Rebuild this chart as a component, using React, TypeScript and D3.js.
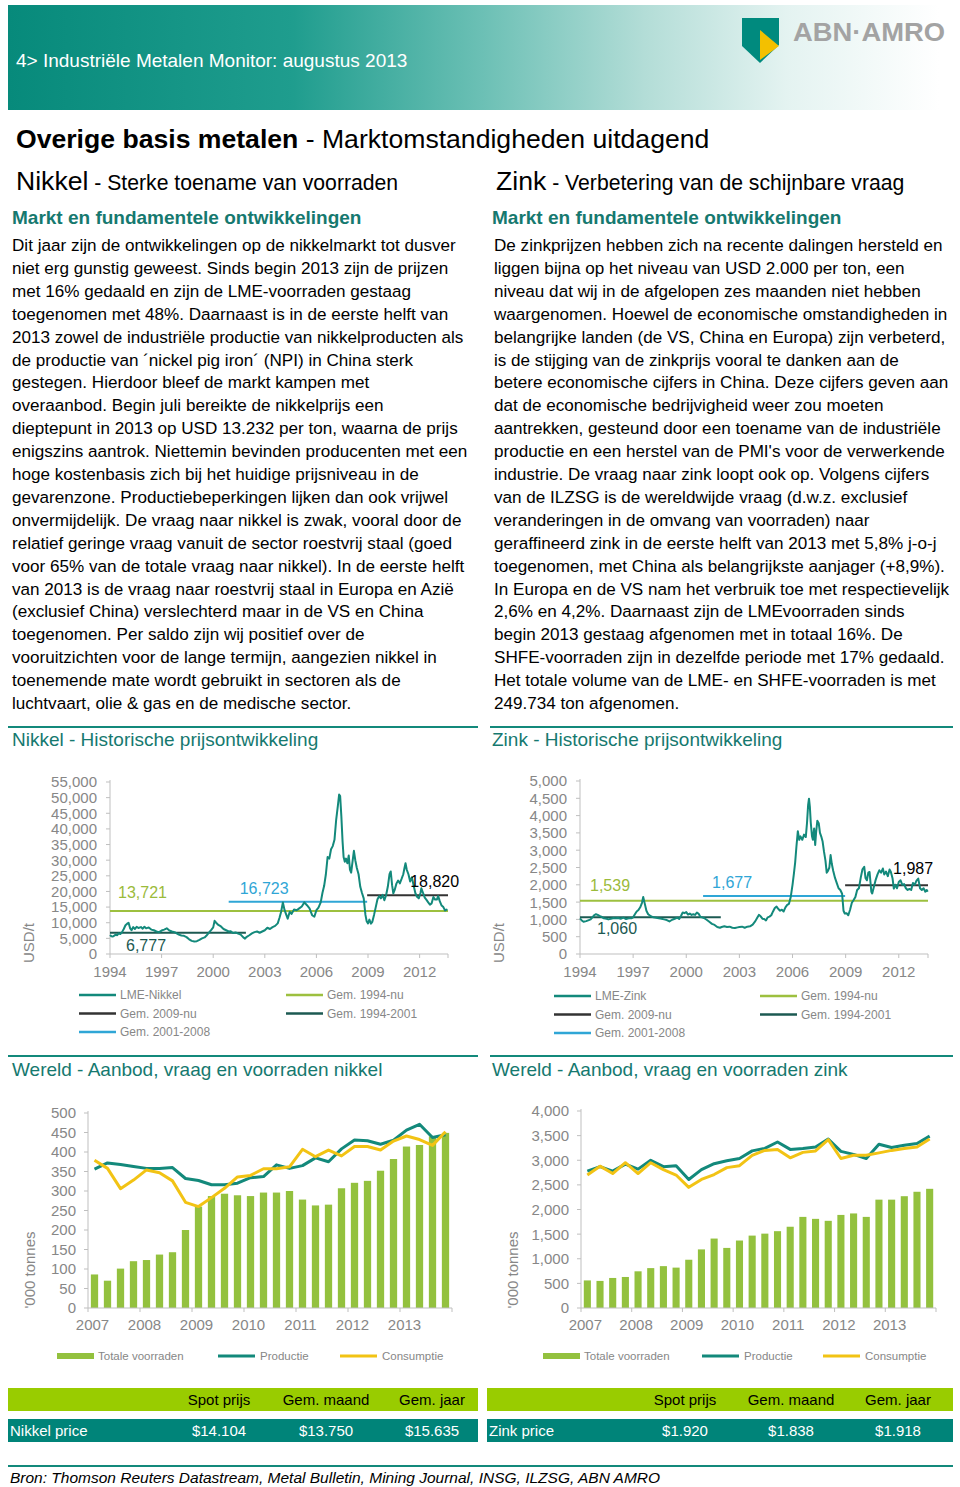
import React from 'react';
import * as d3 from 'd3';

const FONT = "'Liberation Sans', Arial, Helvetica, sans-serif";
const TEAL = '#13897b';
const TEAL_TEXT = '#16796f';
const GRAY = '#878787';
const GREEN_AVG = '#9dc03f';
const DARK_AVG = '#1c5a52';
const BLUE_AVG = '#2fa6d6';
const BLACK_AVG = '#333333';
const BAR_GREEN = '#93c13e';
const YELLOW = '#f2c314';

// ---------------- Text content ----------------
const nickelText = [
  'Dit jaar zijn de ontwikkelingen op de nikkelmarkt tot dusver',
  'niet erg gunstig geweest. Sinds begin 2013 zijn de prijzen',
  'met 16% gedaald en zijn de LME-voorraden gestaag',
  'toegenomen met 48%. Daarnaast is in de eerste helft van',
  '2013 zowel de industriële productie van nikkelproducten als',
  'de productie van ´nickel pig iron´ (NPI) in China sterk',
  'gestegen. Hierdoor bleef de markt kampen met',
  'overaanbod. Begin juli bereikte de nikkelprijs een',
  'dieptepunt in 2013 op USD 13.232 per ton, waarna de prijs',
  'enigszins aantrok. Niettemin bevinden producenten met een',
  'hoge kostenbasis zich bij het huidige prijsniveau in de',
  'gevarenzone. Productiebeperkingen lijken dan ook vrijwel',
  'onvermijdelijk. De vraag naar nikkel is zwak, vooral door de',
  'relatief geringe vraag vanuit de sector roestvrij staal (goed',
  'voor 65% van de totale vraag naar nikkel). In de eerste helft',
  'van 2013 is de vraag naar roestvrij staal in Europa en Azië',
  '(exclusief China) verslechterd maar in de VS en China',
  'toegenomen. Per saldo zijn wij positief over de',
  'vooruitzichten voor de lange termijn, aangezien nikkel in',
  'toenemende mate wordt gebruikt in sectoren als de',
  'luchtvaart, olie & gas en de medische sector.',
];

const zincText = [
  'De zinkprijzen hebben zich na recente dalingen hersteld en',
  'liggen bijna op het niveau van USD 2.000 per ton, een',
  'niveau dat wij in de afgelopen zes maanden niet hebben',
  'waargenomen. Hoewel de economische omstandigheden in',
  'belangrijke landen (de VS, China en Europa) zijn verbeterd,',
  'is de stijging van de zinkprijs vooral te danken aan de',
  'betere economische cijfers in China. Deze cijfers geven aan',
  'dat de economische bedrijvigheid weer zou moeten',
  'aantrekken, gesteund door een toename van de industriële',
  "productie en een herstel van de PMI's voor de verwerkende",
  'industrie. De vraag naar zink loopt ook op. Volgens cijfers',
  'van de ILZSG is de wereldwijde vraag (d.w.z. exclusief',
  'veranderingen in de omvang van voorraden) naar',
  'geraffineerd zink in de eerste helft van 2013 met 5,8% j-o-j',
  'toegenomen, met China als belangrijkste aanjager (+8,9%).',
  'In Europa en de VS nam het verbruik toe met respectievelijk',
  '2,6% en 4,2%. Daarnaast zijn de LMEvoorraden sinds',
  'begin 2013 gestaag afgenomen met in totaal 16%. De',
  'SHFE-voorraden zijn in dezelfde periode met 17% gedaald.',
  'Het totale volume van de LME- en SHFE-voorraden is met',
  '249.734 ton afgenomen.',
];

// ---------------- Price data (year, USD/t) ----------------
const nickelPrice: [number, number][] = [
  [1994.0, 6100], [1994.08, 5700], [1994.17, 5600], [1994.25, 5900], [1994.33, 6200], [1994.42, 6000],
  [1994.5, 6600], [1994.6, 6400], [1994.7, 7000], [1994.8, 8000], [1994.9, 9200], [1995.0, 9700],
  [1995.08, 10000], [1995.17, 8200], [1995.25, 7600], [1995.35, 8600], [1995.45, 8000], [1995.55, 8700],
  [1995.65, 8300], [1995.8, 8600], [1995.9, 8100], [1996.0, 8700], [1996.1, 8200], [1996.25, 8500],
  [1996.4, 7800], [1996.55, 7600], [1996.7, 7200], [1996.85, 7000], [1997.0, 7500], [1997.15, 7800],
  [1997.3, 8200], [1997.45, 7500], [1997.6, 7200], [1997.75, 7000], [1997.9, 6500], [1998.0, 6200],
  [1998.15, 5900], [1998.3, 5800], [1998.45, 5400], [1998.6, 4700], [1998.75, 4200], [1998.9, 4000],
  [1999.05, 4100], [1999.2, 4500], [1999.35, 5000], [1999.5, 5300], [1999.6, 5800], [1999.75, 6800],
  [1999.9, 7800], [2000.0, 8500], [2000.08, 10600], [2000.17, 10000], [2000.3, 9300], [2000.45, 8800],
  [2000.6, 8000], [2000.75, 7600], [2000.9, 7200], [2001.0, 7300], [2001.15, 6700], [2001.3, 6900],
  [2001.45, 6500], [2001.6, 6200], [2001.75, 5300], [2001.85, 4900], [2001.95, 5500], [2002.1, 6000],
  [2002.25, 6600], [2002.4, 7000], [2002.55, 7200], [2002.7, 6800], [2002.85, 7200], [2003.0, 7600],
  [2003.15, 8400], [2003.3, 8000], [2003.45, 8600], [2003.6, 9000], [2003.75, 9800], [2003.85, 11500],
  [2003.95, 13500], [2004.05, 16500], [2004.15, 14000], [2004.25, 12500], [2004.33, 11300], [2004.45, 13500],
  [2004.55, 12800], [2004.7, 14200], [2004.85, 14000], [2005.0, 14600], [2005.15, 15200], [2005.3, 16500],
  [2005.45, 15600], [2005.6, 14600], [2005.75, 12400], [2005.88, 11900], [2006.0, 14000], [2006.12, 14800],
  [2006.25, 16500], [2006.35, 19500], [2006.45, 21800], [2006.55, 25500], [2006.65, 31000], [2006.75, 30500],
  [2006.85, 33500], [2006.95, 34500], [2007.05, 36500], [2007.15, 43000], [2007.25, 47500], [2007.32, 51000],
  [2007.38, 50500], [2007.45, 44000], [2007.52, 36000], [2007.58, 31000], [2007.65, 29500], [2007.72, 30500],
  [2007.8, 29000], [2007.88, 31500], [2007.95, 27000], [2008.02, 26000], [2008.1, 29500], [2008.18, 33000],
  [2008.26, 30000], [2008.35, 27500], [2008.45, 25500], [2008.55, 21500], [2008.65, 19500], [2008.75, 17800],
  [2008.85, 12500], [2008.92, 10500], [2009.0, 9800], [2009.08, 11000], [2009.17, 9700], [2009.25, 10300],
  [2009.35, 12500], [2009.45, 15000], [2009.55, 17500], [2009.65, 18500], [2009.75, 17800], [2009.85, 18900],
  [2009.95, 17200], [2010.05, 18800], [2010.15, 21500], [2010.25, 25500], [2010.32, 26400], [2010.4, 22000],
  [2010.47, 19400], [2010.55, 20500], [2010.65, 22500], [2010.75, 23500], [2010.85, 22600], [2010.95, 24000],
  [2011.05, 25500], [2011.12, 27500], [2011.18, 29000], [2011.25, 27000], [2011.35, 25500], [2011.45, 23200],
  [2011.55, 24500], [2011.65, 22000], [2011.75, 19500], [2011.85, 18300], [2011.95, 17800], [2012.05, 19500],
  [2012.1, 21000], [2012.2, 19500], [2012.3, 18000], [2012.4, 17300], [2012.5, 16500], [2012.6, 15800],
  [2012.7, 16200], [2012.8, 18200], [2012.9, 17400], [2013.0, 17400], [2013.08, 18500], [2013.17, 16900],
  [2013.28, 15500], [2013.38, 15000], [2013.48, 13900], [2013.56, 14200], [2013.62, 14100],
];

const zincPrice: [number, number][] = [
  [1994.0, 1030], [1994.1, 970], [1994.2, 930], [1994.35, 950], [1994.5, 980], [1994.6, 1000],
  [1994.7, 1060], [1994.8, 1120], [1994.9, 1150], [1995.0, 1130], [1995.1, 1100], [1995.2, 1080],
  [1995.35, 1030], [1995.5, 1020], [1995.6, 1000], [1995.75, 1020], [1995.9, 1040], [1996.0, 1030],
  [1996.15, 1040], [1996.3, 1020], [1996.45, 1050], [1996.6, 1010], [1996.75, 1030], [1996.9, 1030],
  [1997.0, 1060], [1997.1, 1150], [1997.2, 1230], [1997.3, 1270], [1997.4, 1350], [1997.5, 1480],
  [1997.57, 1650], [1997.65, 1470], [1997.75, 1250], [1997.85, 1150], [1998.0, 1090], [1998.15, 1060],
  [1998.3, 1050], [1998.45, 1030], [1998.6, 1020], [1998.75, 1000], [1998.9, 980], [1999.05, 940],
  [1999.2, 990], [1999.35, 1020], [1999.5, 1050], [1999.6, 1010], [1999.7, 1100], [1999.8, 1200],
  [1999.9, 1180], [2000.0, 1210], [2000.1, 1140], [2000.2, 1170], [2000.3, 1130], [2000.4, 1150],
  [2000.5, 1130], [2000.6, 1200], [2000.7, 1160], [2000.8, 1070], [2000.9, 1060], [2001.0, 1040],
  [2001.15, 990], [2001.3, 930], [2001.45, 870], [2001.6, 840], [2001.75, 780], [2001.9, 760],
  [2002.0, 780], [2002.15, 800], [2002.3, 780], [2002.45, 790], [2002.6, 760], [2002.75, 750],
  [2002.9, 770], [2003.0, 780], [2003.15, 790], [2003.3, 760], [2003.45, 790], [2003.6, 800],
  [2003.75, 850], [2003.9, 950], [2004.0, 1040], [2004.1, 1130], [2004.2, 1090], [2004.3, 1020],
  [2004.4, 1010], [2004.5, 970], [2004.6, 1060], [2004.7, 1080], [2004.8, 1120], [2004.9, 1230],
  [2005.0, 1330], [2005.1, 1370], [2005.2, 1300], [2005.3, 1250], [2005.4, 1280], [2005.5, 1230],
  [2005.6, 1350], [2005.7, 1420], [2005.8, 1450], [2005.9, 1650], [2006.0, 2000], [2006.08, 2330],
  [2006.15, 2650], [2006.22, 3100], [2006.3, 3550], [2006.38, 3300], [2006.45, 3400], [2006.55, 3300],
  [2006.65, 3450], [2006.75, 3380], [2006.82, 3800], [2006.88, 4300], [2006.93, 4490], [2006.98, 4250],
  [2007.03, 3800], [2007.1, 3400], [2007.15, 3300], [2007.22, 3630], [2007.28, 3150], [2007.33, 3500],
  [2007.4, 3850], [2007.48, 3780], [2007.55, 3500], [2007.62, 3400], [2007.7, 3250], [2007.78, 2950],
  [2007.86, 2700], [2007.93, 2350], [2008.0, 2400], [2008.08, 2500], [2008.15, 2860], [2008.22, 2600],
  [2008.3, 2400], [2008.4, 2200], [2008.5, 2050], [2008.6, 1900], [2008.7, 1850], [2008.8, 1740],
  [2008.88, 1250], [2008.95, 1170], [2009.05, 1180], [2009.15, 1120], [2009.25, 1280], [2009.35, 1480],
  [2009.45, 1560], [2009.55, 1650], [2009.65, 1850], [2009.75, 1900], [2009.85, 2200], [2009.95, 2450],
  [2010.05, 2520], [2010.12, 2200], [2010.2, 2130], [2010.28, 2350], [2010.35, 2370], [2010.45, 1800],
  [2010.5, 1750], [2010.6, 1950], [2010.7, 2150], [2010.8, 2300], [2010.9, 2420], [2011.0, 2350],
  [2011.1, 2470], [2011.18, 2300], [2011.28, 2380], [2011.38, 2250], [2011.48, 2440], [2011.55, 2380],
  [2011.65, 2180], [2011.72, 1890], [2011.8, 2000], [2011.9, 1900], [2012.0, 2080], [2012.1, 2130],
  [2012.2, 2000], [2012.3, 2020], [2012.4, 1900], [2012.5, 1850], [2012.6, 1880], [2012.7, 1850],
  [2012.8, 2050], [2012.9, 2000], [2013.0, 2120], [2013.1, 2180], [2013.2, 1900], [2013.3, 1850],
  [2013.4, 1900], [2013.5, 1800], [2013.58, 1850], [2013.63, 1800],
];

// averages: value, from year, to year
const nickelAverages = [
  { key: 'Gem. 1994-nu', value: 13721, from: 1994, to: 2013.65 },
  { key: 'Gem. 1994-2001', value: 6777, from: 1994, to: 2001.9 },
  { key: 'Gem. 2001-2008', value: 16723, from: 2000.9, to: 2008.95 },
  { key: 'Gem. 2009-nu', value: 18820, from: 2008.95, to: 2013.65 },
];
const zincAverages = [
  { key: 'Gem. 1994-nu', value: 1539, from: 1994, to: 2013.65 },
  { key: 'Gem. 1994-2001', value: 1060, from: 1994, to: 2001.95 },
  { key: 'Gem. 2001-2008', value: 1677, from: 2000.95, to: 2008.97 },
  { key: 'Gem. 2009-nu', value: 1987, from: 2008.97, to: 2013.65 },
];

const priceYearTicks = [1994, 1997, 2000, 2003, 2006, 2009, 2012];
const nickelPriceTicks = [0, 5000, 10000, 15000, 20000, 25000, 30000, 35000, 40000, 45000, 50000, 55000];
const zincPriceTicks = [0, 500, 1000, 1500, 2000, 2500, 3000, 3500, 4000, 4500, 5000];

// ---------------- Quarterly supply/demand data ('000 t) ----------------
const quarterYears = [2007, 2008, 2009, 2010, 2011, 2012, 2013];
const nickelStocks = [86, 70, 101, 120, 123, 137, 143, 200, 260, 287, 293, 289, 287, 296, 296, 300,
  278, 263, 265, 307, 321, 326, 352, 382, 414, 418, 440, 449];
const nickelProduction = [356, 372, 368, 363, 358, 358, 360, 332, 327, 316, 316, 320, 334, 337, 367, 358,
  365, 385, 375, 408, 431, 429, 420, 430, 456, 471, 437, 444];
const nickelProductionLast = 456;
const nickelConsumption = [379, 358, 306, 328, 354, 347, 326, 271, 260, 283, 307, 336, 340, 357, 357, 362,
  407, 388, 405, 390, 414, 414, 405, 428, 441, 432, 417, 452];
const nickelTicks = [0, 50, 100, 150, 200, 250, 300, 350, 400, 450, 500];

const zincStocks = [560, 550, 610, 630, 745, 810, 850, 820, 980, 1190, 1410, 1220, 1370, 1470, 1510, 1560,
  1650, 1850, 1810, 1770, 1890, 1920, 1850, 2200, 2200, 2270, 2360, 2420];
const zincProduction = [2780, 2870, 2780, 2920, 2820, 3000, 2870, 2890, 2610, 2810, 2930, 2990, 3035, 3190,
  3240, 3370, 3220, 3240, 3270, 3430, 3180, 3120, 3035, 3325, 3260, 3305, 3340, 3490];
const zincConsumption = [2700, 2880, 2730, 2950, 2730, 2950, 2810, 2700, 2450, 2610, 2710, 2850, 2890, 3100,
  3200, 3220, 3050, 3160, 3190, 3420, 3035, 3100, 3100, 3150, 3200, 3240, 3270, 3430];
const zincTicks = [0, 500, 1000, 1500, 2000, 2500, 3000, 3500, 4000];

// ---------------- Table ----------------
const tableHeaders = ['Spot prijs', 'Gem. maand', 'Gem. jaar'];
const nickelTable = ['$14.104', '$13.750', '$15.635'];
const zincTable = ['$1.920', '$1.838', '$1.918'];

const fmt = d3.format(',');

type Avg = { key: string; value: number; from: number; to: number };

function PriceChart(props: {
  data: [number, number][];
  avgs: Avg[];
  ticks: number[];
  yMax: number;
  left: number;
  right: number;
  top: number;
  bottom: number;
  metal: string;
  labelOffsets: { dx: number; dy: number }[];
  legendX: [number, number];
  legendY: number;
}) {
  const { data, avgs, ticks, yMax, left, right, top, bottom, metal, labelOffsets, legendX, legendY } = props;
  const x = d3.scaleLinear().domain([1994, 2013.65]).range([left, right]);
  const y = d3.scaleLinear().domain([0, yMax]).range([bottom, top]);
  const line = d3.line<[number, number]>().x((d) => x(d[0])).y((d) => y(d[1]));
  const avgColors = [GREEN_AVG, DARK_AVG, BLUE_AVG, BLACK_AVG];
  const labelColors = ['#9bbb3b', '#1c5a52', '#2fa6d6', '#000000'];
  const legendItems = [
    { label: metal, color: TEAL, col: 0, row: 0 },
    { label: avgs[0].key, color: avgColors[0], col: 1, row: 0 },
    { label: avgs[3].key, color: avgColors[3], col: 0, row: 1 },
    { label: avgs[1].key, color: avgColors[1], col: 1, row: 1 },
    { label: avgs[2].key, color: avgColors[2], col: 0, row: 2 },
  ];
  return (
    <g>
      <line x1={left} x2={left} y1={top - 2} y2={bottom} stroke="#bfbfbf" strokeWidth={1} />
      <line x1={left} x2={right} y1={bottom} y2={bottom} stroke="#bfbfbf" strokeWidth={1} />
      {ticks.map((t) => (
        <g key={t}>
          <line x1={left - 4} x2={left} y1={y(t)} y2={y(t)} stroke="#bfbfbf" />
          <text x={left - 13} y={y(t)} dy="0.36em" textAnchor="end" fontSize={15} fill={GRAY}>
            {fmt(t)}
          </text>
        </g>
      ))}
      {priceYearTicks.map((t) => (
        <g key={t}>
          <line x1={x(t)} x2={x(t)} y1={bottom} y2={bottom + 4} stroke="#bfbfbf" />
          <text x={x(t)} y={bottom + 23} textAnchor="middle" fontSize={15} fill={GRAY}>
            {t}
          </text>
        </g>
      ))}
      <line x1={right} x2={right} y1={bottom} y2={bottom + 4} stroke="#bfbfbf" />
      {avgs.map((a, i) => (
        <line key={a.key} x1={x(a.from)} x2={x(a.to)} y1={y(a.value)} y2={y(a.value)} stroke={avgColors[i]} strokeWidth={2} />
      ))}
      <path d={line(data) || ''} fill="none" stroke={TEAL} strokeWidth={2} strokeLinejoin="round" />
      {avgs.map((a, i) => (
        <text
          key={a.key + 'l'}
          x={x(a.from) + labelOffsets[i].dx}
          y={y(a.value) + labelOffsets[i].dy}
          fontSize={16}
          fill={labelColors[i]}
        >
          {fmt(a.value)}
        </text>
      ))}
      <text
        transform={`translate(${left - 81},${bottom - 11}) rotate(-90)`}
        textAnchor="middle"
        dy="0.35em"
        fontSize={15}
        fill={GRAY}
      >
        USD/t
      </text>
      {legendItems.map((it) => {
        const lx = legendX[it.col];
        const ly = legendY + it.row * 18.5;
        return (
          <g key={it.label}>
            <line x1={lx} x2={lx + 37} y1={ly} y2={ly} stroke={it.color} strokeWidth={2.5} />
            <text x={lx + 41} y={ly} dy="0.35em" fontSize={12} fill={GRAY}>
              {it.label}
            </text>
          </g>
        );
      })}
    </g>
  );
}

function SupplyChart(props: {
  stocks: number[];
  production: number[];
  consumption: number[];
  ticks: number[];
  yMax: number;
  left: number;
  right: number;
  top: number;
  bottom: number;
  legendXs: number[];
  legendY: number;
  yTitleX: number;
}) {
  const { stocks, production, consumption, ticks, yMax, left, right, top, bottom, legendXs, legendY, yTitleX } = props;
  const idx = stocks.map((_, i) => i);
  const x = d3.scaleBand<number>().domain(idx).range([left, right]).paddingInner(0.44).paddingOuter(0.22);
  const step = x.step();
  const y = d3.scaleLinear().domain([0, yMax]).range([bottom, top]);
  const cx = (i: number) => (x(i) as number) + x.bandwidth() / 2;
  const line = d3.line<number>().x((_, i) => cx(i)).y((d) => y(d));
  const yearStart = (k: number) => left + k * 4 * step;
  return (
    <g>
      {stocks.map((v, i) => (
        <rect key={i} x={x(i)} y={y(v)} width={x.bandwidth()} height={bottom - y(v)} fill={BAR_GREEN} />
      ))}
      <line x1={left} x2={left} y1={top - 2} y2={bottom} stroke="#bfbfbf" />
      <line x1={left} x2={right} y1={bottom} y2={bottom} stroke="#bfbfbf" />
      {ticks.map((t) => (
        <g key={t}>
          <line x1={left - 4} x2={left} y1={y(t)} y2={y(t)} stroke="#bfbfbf" />
          <text x={left - 12} y={y(t)} dy="0.36em" textAnchor="end" fontSize={15} fill={GRAY}>
            {fmt(t)}
          </text>
        </g>
      ))}
      {quarterYears.map((yr, k) => (
        <g key={yr}>
          <line x1={yearStart(k)} x2={yearStart(k)} y1={bottom} y2={bottom + 4} stroke="#bfbfbf" />
          <text x={cx(k * 4) - 2} y={bottom + 22} textAnchor="middle" fontSize={15} fill={GRAY}>
            {yr}
          </text>
        </g>
      ))}
      <line x1={right} x2={right} y1={bottom} y2={bottom + 4} stroke="#bfbfbf" />
      <path d={line(production) || ''} fill="none" stroke={TEAL} strokeWidth={3} strokeLinejoin="round" />
      <path d={line(consumption) || ''} fill="none" stroke={YELLOW} strokeWidth={3} strokeLinejoin="round" />
      <text
        transform={`translate(${yTitleX},${bottom - 38}) rotate(-90)`}
        textAnchor="middle"
        dy="0.35em"
        fontSize={15}
        fill={GRAY}
      >
        '000 tonnes
      </text>
      <rect x={legendXs[0]} y={legendY - 3} width={37} height={6} fill={BAR_GREEN} />
      <text x={legendXs[0] + 41} y={legendY} dy="0.35em" fontSize={11.5} fill={GRAY}>
        Totale voorraden
      </text>
      <line x1={legendXs[1]} x2={legendXs[1] + 37} y1={legendY} y2={legendY} stroke={TEAL} strokeWidth={3} />
      <text x={legendXs[1] + 42} y={legendY} dy="0.35em" fontSize={11.5} fill={GRAY}>
        Productie
      </text>
      <line x1={legendXs[2]} x2={legendXs[2] + 37} y1={legendY} y2={legendY} stroke={YELLOW} strokeWidth={3} />
      <text x={legendXs[2] + 42} y={legendY} dy="0.35em" fontSize={11.5} fill={GRAY}>
        Consumptie
      </text>
    </g>
  );
}

function PriceTable(props: { x: number; width: number; name: string; values: string[]; cols: number[] }) {
  const { x, width, name, values, cols } = props;
  return (
    <g>
      <rect x={x} y={1388} width={width} height={23} fill="#99cc00" />
      <rect x={x} y={1419} width={width} height={23} fill="#008479" />
      {tableHeaders.map((h, i) => (
        <text key={h} x={cols[i]} y={1405} textAnchor="middle" fontSize={15} fill="#000">
          {h}
        </text>
      ))}
      <text x={x + 2} y={1436} fontSize={15} fill="#fff">
        {name}
      </text>
      {values.map((v, i) => (
        <text key={i} x={cols[i]} y={1436} textAnchor="middle" fontSize={15} fill="#fff">
          {v}
        </text>
      ))}
    </g>
  );
}

export default function App() {
  const nickelProd = [...nickelProduction, nickelProductionLast];
  return (
    <svg
      width={960}
      height={1487}
      style={{ position: 'absolute', left: 0, top: 0, background: '#fff' }}
      fontFamily={FONT}
    >
      <defs>
        <linearGradient id="hdr" x1="0" x2="1" y1="0" y2="0">
          <stop offset="0" stopColor="#078a7b" />
          <stop offset="0.3" stopColor="#1f9d8e" />
          <stop offset="0.5" stopColor="#6cc0b5" />
          <stop offset="0.67" stopColor="#b3ddd7" />
          <stop offset="0.82" stopColor="#e4f3f1" />
          <stop offset="0.98" stopColor="#ffffff" />
        </linearGradient>
      </defs>
      <rect x={0} y={0} width={960} height={1487} fill="#fff" />
      <rect x={8} y={5} width={950} height={105} fill="url(#hdr)" />
      <text x={16} y={67} fontSize={19} fill="#fff">
        4&gt; Industriële Metalen Monitor: augustus 2013
      </text>
      <polygon points="742,18 779,18 779,45 760,63 742,46" fill="#008a7e" />
      <polygon points="760,30 779,46 760,60" fill="#f3c000" />
      <text x={793} y={41} fontSize={26} fontWeight="bold" fill="#a3a3a3" textLength={152} lengthAdjust="spacingAndGlyphs">
        ABN·AMRO
      </text>

      <text x={16} y={148} fontSize={26.6} fill="#000">
        <tspan fontWeight="bold">Overige basis metalen</tspan>
        <tspan> - Marktomstandigheden uitdagend</tspan>
      </text>
      <text x={16} y={190} fill="#000">
        <tspan fontSize={26.6}>Nikkel</tspan>
        <tspan fontSize={21.2}> - Sterke toename van voorraden</tspan>
      </text>
      <text x={496} y={190} fill="#000">
        <tspan fontSize={26.6}>Zink</tspan>
        <tspan fontSize={21.2}> - Verbetering van de schijnbare vraag</tspan>
      </text>
      <text x={12} y={224} fontSize={19} fontWeight="bold" fill={TEAL_TEXT}>
        Markt en fundamentele ontwikkelingen
      </text>
      <text x={492} y={224} fontSize={19} fontWeight="bold" fill={TEAL_TEXT}>
        Markt en fundamentele ontwikkelingen
      </text>

      {nickelText.map((t, i) => (
        <text key={'n' + i} x={12} y={251 + i * 22.9} fontSize={17.1} fill="#000">
          {t}
        </text>
      ))}
      {zincText.map((t, i) => (
        <text key={'z' + i} x={494} y={251 + i * 22.9} fontSize={17.1} fill="#000">
          {t}
        </text>
      ))}

      <line x1={8} x2={478} y1={727} y2={727} stroke={TEAL} strokeWidth={2} />
      <line x1={490} x2={953} y1={727} y2={727} stroke={TEAL} strokeWidth={2} />
      <text x={12} y={746} fontSize={19} fill={TEAL_TEXT}>
        Nikkel - Historische prijsontwikkeling
      </text>
      <text x={492} y={746} fontSize={19} fill={TEAL_TEXT}>
        Zink - Historische prijsontwikkeling
      </text>

      <PriceChart
        data={nickelPrice}
        avgs={nickelAverages}
        ticks={nickelPriceTicks}
        yMax={55000}
        left={110}
        right={448}
        top={782}
        bottom={954}
        metal="LME-Nikkel"
        labelOffsets={[
          { dx: 8, dy: -13 },
          { dx: 16, dy: 18 },
          { dx: 11, dy: -8 },
          { dx: 43, dy: -8 },
        ]}
        legendX={[79, 286]}
        legendY={995}
      />
      <PriceChart
        data={zincPrice}
        avgs={zincAverages}
        ticks={zincPriceTicks}
        yMax={5000}
        left={580}
        right={928}
        top={781}
        bottom={954}
        metal="LME-Zink"
        labelOffsets={[
          { dx: 10, dy: -10 },
          { dx: 17, dy: 17 },
          { dx: 9, dy: -8 },
          { dx: 48, dy: -11 },
        ]}
        legendX={[554, 760]}
        legendY={996}
      />

      <line x1={8} x2={478} y1={1056} y2={1056} stroke={TEAL} strokeWidth={2} />
      <line x1={490} x2={953} y1={1056} y2={1056} stroke={TEAL} strokeWidth={2} />
      <text x={12} y={1076} fontSize={19} fill={TEAL_TEXT}>
        Wereld - Aanbod, vraag en voorraden nikkel
      </text>
      <text x={492} y={1076} fontSize={19} fill={TEAL_TEXT}>
        Wereld - Aanbod, vraag en voorraden zink
      </text>

      <SupplyChart
        stocks={nickelStocks}
        production={nickelProd}
        consumption={nickelConsumption}
        ticks={nickelTicks}
        yMax={500}
        left={88}
        right={452}
        top={1113}
        bottom={1308}
        legendXs={[57, 218, 340]}
        legendY={1356}
        yTitleX={30}
      />
      <SupplyChart
        stocks={zincStocks}
        production={zincProduction}
        consumption={zincConsumption}
        ticks={zincTicks}
        yMax={4000}
        left={581}
        right={936}
        top={1111}
        bottom={1308}
        legendXs={[543, 702, 823]}
        legendY={1356}
        yTitleX={513}
      />

      <PriceTable x={8} width={470} name="Nikkel price" values={nickelTable} cols={[219, 326, 432]} />
      <PriceTable x={487} width={466} name="Zink price" values={zincTable} cols={[685, 791, 898]} />

      <line x1={8} x2={953} y1={1466} y2={1466} stroke={TEAL} strokeWidth={2} />
      <text x={10} y={1483} fontSize={15.5} fontStyle="italic" fill="#000">
        Bron: Thomson Reuters Datastream, Metal Bulletin, Mining Journal, INSG, ILZSG, ABN AMRO
      </text>
    </svg>
  );
}
